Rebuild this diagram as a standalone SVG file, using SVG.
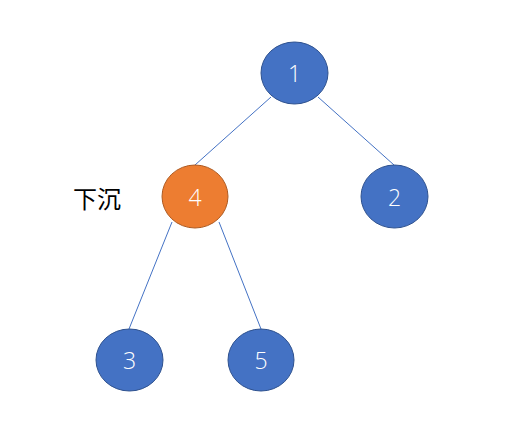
<svg xmlns="http://www.w3.org/2000/svg" width="513" height="434" viewBox="0 0 513 434">
<style>
.n{fill:#4472C4;stroke:#2F528F;stroke-width:1}
.o{fill:#ED7D31;stroke:#AE5A21;stroke-width:1}
.t{font-family:"Open Sans","Liberation Sans",sans-serif;font-weight:300;font-size:23px;fill:#fff;text-anchor:middle;dominant-baseline:central}
.e{stroke:#4472C4;stroke-width:1;fill:none}
.l{font-family:"Noto Sans CJK SC",sans-serif;font-size:24px;fill:#000;dominant-baseline:central}
</style>
<rect width="513" height="434" fill="#fff"/>
<g id="connectors">
<line class="e" x1="271" y1="97" x2="195" y2="165"/>
<line class="e" x1="318" y1="97" x2="394" y2="165"/>
<line class="e" x1="172" y1="222" x2="129" y2="329"/>
<line class="e" x1="219" y1="222" x2="261" y2="329"/>
</g>
<g id="n1"><ellipse class="n" cx="294.5" cy="73" rx="33.5" ry="31"/><text class="t" x="294.5" y="73">1</text></g>
<g id="n4"><ellipse class="o" cx="195" cy="196.5" rx="33" ry="31.5"/><text class="t" x="195" y="196.5">4</text></g>
<g id="n2"><ellipse class="n" cx="394.5" cy="196.5" rx="33.5" ry="31.5"/><text class="t" x="394.5" y="196.5">2</text></g>
<g id="n3"><ellipse class="n" cx="129.5" cy="360" rx="33.5" ry="31"/><text class="t" x="129.5" y="360">3</text></g>
<g id="n5"><ellipse class="n" cx="261" cy="360" rx="33" ry="31"/><text class="t" x="261" y="360">5</text></g>
<g id="label"><text class="l" x="73" y="197">下沉</text></g>
</svg>
